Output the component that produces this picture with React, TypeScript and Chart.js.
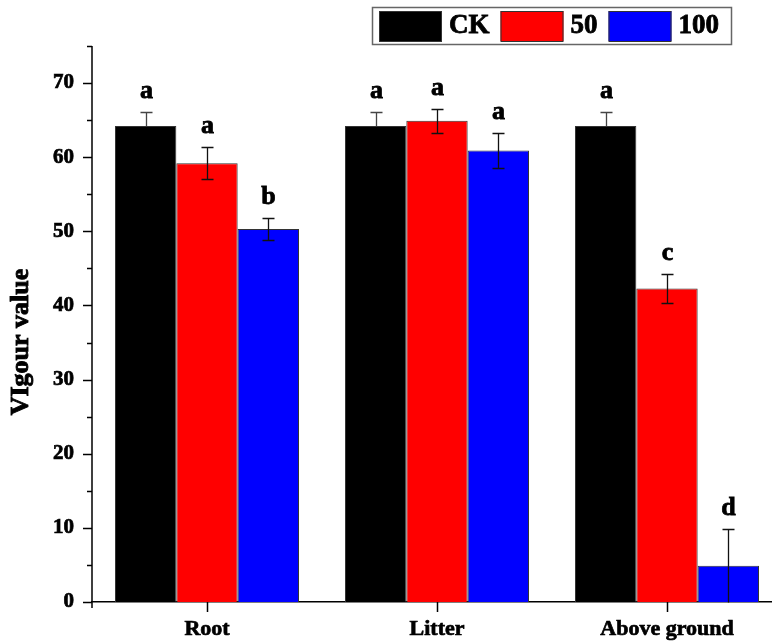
import React, { useEffect, useRef } from 'react';
import { Chart, registerables } from 'chart.js';

Chart.register(...registerables);

// ---- data ----
const categories = ['Root', 'Litter', 'Above ground'];
const seriesLabels = ['CK', '50', '100'];
const ckValues = [64.2, 64.2, 64.2];
const ckErrors = [1.9, 1.9, 1.9];
const ckLetters = ['a', 'a', 'a'];
const t50Values = [59.2, 64.9, 42.3];
const t50Errors = [2.2, 1.6, 2.0];
const t50Letters = ['a', 'a', 'c'];
const t100Values = [50.3, 60.9, 4.9];
const t100Errors = [1.5, 2.35, 4.95];
const t100Letters = ['b', 'a', 'd'];
const yTickValues = [0, 10, 20, 30, 40, 50, 60, 70];
const yMinorValues = [5, 15, 25, 35, 45, 55, 65, 75];
const yAxisTitle = 'VIgour value';

const seriesColors = ['#000000', '#ff0000', '#0000ff'];
const FONT = '"Liberation Serif", "Times New Roman", Times, serif';

function boldText(ctx: CanvasRenderingContext2D, text: string, x: number, y: number, sw = 0.7) {
  ctx.fillText(text, x, y);
  ctx.lineWidth = sw;
  ctx.strokeStyle = ctx.fillStyle as string;
  ctx.strokeText(text, x, y);
}

const decorPlugin = {
  id: 'decor',
  afterDraw(chart: any) {
    const ctx: CanvasRenderingContext2D = chart.ctx;
    const ys = chart.scales.y;
    const xs = chart.scales.x;
    const area = chart.chartArea;
    ctx.save();

    // error bars and letters
    chart.data.datasets.forEach((ds: any, di: number) => {
      const meta = chart.getDatasetMeta(di);
      meta.data.forEach((bar: any, i: number) => {
        const v = ds.data[i];
        const e = ds.errors[i];
        const cx = Math.round(bar.x) + 0.5;
        const top = Math.round(ys.getPixelForValue(v + e)) + 0.5;
        const lowVal = v - e;
        const bot = Math.round(ys.getPixelForValue(Math.max(0, lowVal))) + 0.5;
        ctx.strokeStyle = di === 0 ? '#444444' : '#111111';
        ctx.lineWidth = 1.3;
        ctx.beginPath();
        ctx.moveTo(cx, top);
        ctx.lineTo(cx, di === 0 ? ys.getPixelForValue(v) : bot);
        ctx.moveTo(cx - 6, top);
        ctx.lineTo(cx + 6, top);
        if (lowVal > 0.3 && di !== 0) {
          ctx.moveTo(cx - 6, bot);
          ctx.lineTo(cx + 6, bot);
        }
        ctx.stroke();
        ctx.fillStyle = '#000';
        ctx.font = `bold 26px ${FONT}`;
        ctx.textAlign = 'center';
        ctx.textBaseline = 'alphabetic';
        boldText(ctx, ds.letters[i], cx, top - 15, 0.8);
      });
    });

    // axis ticks
    ctx.strokeStyle = '#000';
    ctx.lineWidth = 1.5;
    ctx.beginPath();
    yTickValues.forEach((v) => {
      const py = Math.round(ys.getPixelForValue(v)) + 0.5;
      ctx.moveTo(area.left - 9, py);
      ctx.lineTo(area.left, py);
    });
    yMinorValues.forEach((v) => {
      const py = Math.round(ys.getPixelForValue(v)) + 0.5;
      ctx.moveTo(area.left - 5, py);
      ctx.lineTo(area.left, py);
    });
    categories.forEach((_, i) => {
      const px = Math.round(xs.getPixelForValue(i)) + 0.5;
      ctx.moveTo(px, area.bottom);
      ctx.lineTo(px, area.bottom + 10);
    });
    // y axis line (slightly beyond the x axis)
    ctx.moveTo(area.left, ys.getPixelForValue(75));
    ctx.lineTo(area.left, area.bottom + 6);
    ctx.stroke();

    // y axis title
    ctx.save();
    ctx.translate(28, (area.top + area.bottom) / 2 + 18);
    ctx.rotate(-Math.PI / 2);
    ctx.font = `bold 26px ${FONT}`;
    ctx.fillStyle = '#000';
    ctx.textAlign = 'center';
    ctx.textBaseline = 'alphabetic';
    boldText(ctx, yAxisTitle, 0, 0, 0.9);
    ctx.restore();

    // legend
    const boxLeft = 372;
    const boxTop = 7;
    const boxH = 37;
    ctx.font = `bold 27px ${FONT}`;
    let x = 379;
    const items: { x: number; w: number; label: string; color: string }[] = [];
    seriesLabels.forEach((label, i) => {
      const tw = ctx.measureText(label).width;
      items.push({ x, w: tw, label, color: seriesColors[i] });
      x += 63 + 7 + tw + 11;
    });
    const boxRight = x + 1;
    ctx.fillStyle = '#fff';
    ctx.fillRect(boxLeft, boxTop, boxRight - boxLeft, boxH);
    ctx.strokeStyle = '#666';
    ctx.lineWidth = 1.5;
    ctx.strokeRect(boxLeft + 0.5, boxTop + 0.5, boxRight - boxLeft, boxH);
    items.forEach((it) => {
      ctx.fillStyle = it.color;
      ctx.fillRect(it.x, boxTop + 4, 63, 30);
      ctx.strokeStyle = '#333';
      ctx.lineWidth = 1;
      ctx.strokeRect(it.x + 0.5, boxTop + 4.5, 62, 30);
      ctx.fillStyle = '#000';
      ctx.textAlign = 'left';
      ctx.textBaseline = 'middle';
      boldText(ctx, it.label, it.x + 63 + 7, boxTop + boxH / 2 + 1, 0.8);
    });

    ctx.restore();
  },
};

export default function App() {
  const ref = useRef<HTMLCanvasElement | null>(null);
  useEffect(() => {
    if (!ref.current) return;
    const mk = (label: string, data: number[], errors: number[], letters: string[], color: string) => ({
      label,
      data,
      errors,
      letters,
      backgroundColor: color,
      borderColor: '#333333',
      borderWidth: 1,
      barPercentage: 1.0,
      categoryPercentage: 0.8,
    });
    const chart = new Chart(ref.current, {
      type: 'bar',
      data: {
        labels: categories,
        datasets: [
          mk(seriesLabels[0], ckValues, ckErrors, ckLetters, seriesColors[0]),
          mk(seriesLabels[1], t50Values, t50Errors, t50Letters, seriesColors[1]),
          mk(seriesLabels[2], t100Values, t100Errors, t100Letters, seriesColors[2]),
        ] as any,
      },
      options: {
        animation: false,
        responsive: false,
        devicePixelRatio: 1,
        layout: { padding: { left: 0, right: 8, top: 46, bottom: 0 } },
        plugins: { legend: { display: false }, tooltip: { enabled: false } },
        scales: {
          x: {
            type: 'category',
            grid: { display: false, tickLength: 10 },
            border: { display: true, color: '#000', width: 1.5 },
            ticks: {
              color: '#000', padding: 4, textStrokeColor: '#000', textStrokeWidth: 0.7,
              font: { family: FONT, size: 22, weight: 'bold' },
            },
            afterFit: (s: any) => { s.height = 41; },
          },
          y: {
            min: 0,
            max: 75,
            afterBuildTicks: (s: any) => { s.ticks = yTickValues.map((v) => ({ value: v })); },
            grid: { display: false, tickLength: 9 },
            border: { display: false },
            ticks: {
              color: '#000', padding: 9, textStrokeColor: '#000', textStrokeWidth: 0.7,
              font: { family: FONT, size: 21, weight: 'bold' },
            },
            afterFit: (s: any) => { s.width = 92; },
          },
        },
      } as any,
      plugins: [decorPlugin],
    });
    return () => chart.destroy();
  }, []);

  return (
    <div style={{ position: 'fixed', left: 0, top: 0, width: 772, height: 643, overflow: 'hidden', background: '#fff' }}>
      <canvas ref={ref} width={790} height={643} style={{ display: 'block', width: 790, height: 643 }} />
    </div>
  );
}
